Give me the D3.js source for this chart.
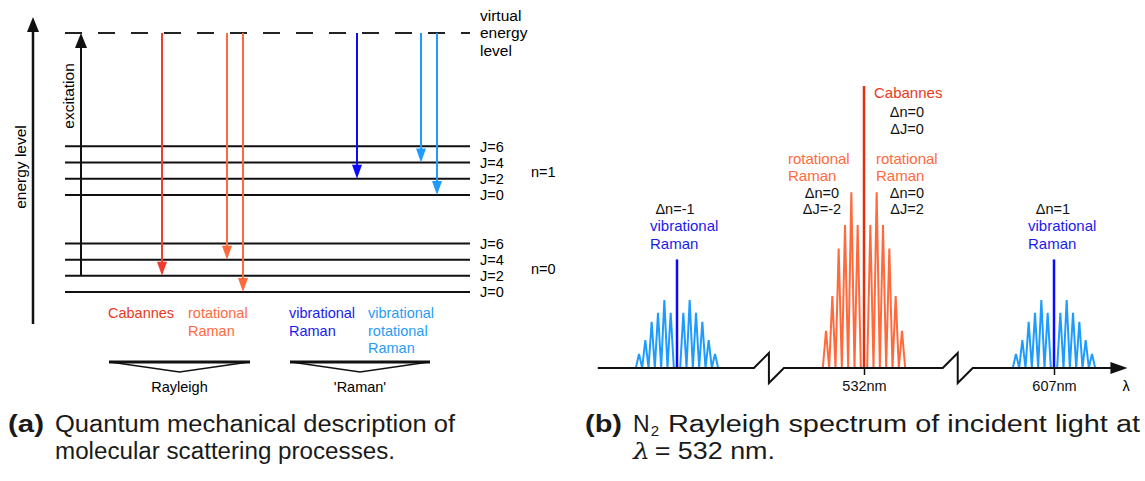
<!DOCTYPE html>
<html>
<head>
<meta charset="utf-8">
<script src="https://cdn.jsdelivr.net/npm/d3@7"></script>
<style>
  body { margin: 0; background: #fff; }
  svg { display: block; }
</style>
</head>
<body>
<svg id="chart" width="1145" height="481"></svg>
<script>
// ---- left panel data: energy levels and transitions ----
var bandsN = [0, 1];               // vibrational quantum number n
var levelsJ = [0, 2, 4, 6];        // rotational quantum number J
var bandSpacing = 6;               // level units between n=0 and n=1
var virtualLevel = 16;             // level units of the virtual level
var excitation = { n: 0, J: 2 };
var processes = ["Cabannes", "rotational Raman", "vibrational Raman", "vibrational rotational Raman"];
var processLines = [["Cabannes"], ["rotational", "Raman"], ["vibrational", "Raman"], ["vibrational", "rotational", "Raman"]];
var transitions = [
    { process: "Cabannes", n: 0, J: 2 },
    { process: "rotational Raman", n: 0, J: 4 },
    { process: "rotational Raman", n: 0, J: 0 },
    { process: "vibrational Raman", n: 1, J: 2 },
    { process: "vibrational rotational Raman", n: 1, J: 4 },
    { process: "vibrational rotational Raman", n: 1, J: 0 }
];
var groups = [
    { name: "Rayleigh", first: "Cabannes", last: "rotational Raman" },
    { name: "'Raman'", first: "vibrational Raman", last: "vibrational rotational Raman" }
];

// ---- right panel data: spectrum ----
var lineIndex = [-6, -5, -4, -3, -2, -1, 0, 1, 2, 3, 4, 5, 6];
var rotIntensity = [13.2, 25.5, 42.4, 50.7, 62.3, 50.7, 100, 50.7, 62.3, 50.7, 42.4, 25.5, 13.2];
var vibIntensity = [5.0, 9.9, 16.4, 19.6, 24.1, 19.6, 38.5, 19.6, 24.1, 19.6, 16.4, 9.9, 5.0];
var bandCenters = [473, 532, 607];   // nm
var axisTicks = [532, 607];
var axisBreaks = [502, 569];
var axisExtent = [448, 636];

var svg = d3.select("#chart");
var sans = "'Liberation Sans', Arial, sans-serif";

var colCab = "#f23c2e", colCabText = "#e53a22";
var colRot = "#ff6a3d";
var colVib = "#0a0aff", colVibText = "#1a1aee";
var colVibRot = "#1e9bff", colVibRotText = "#2a9cf4";
var procColor = d3.scaleOrdinal().domain(processes).range([colCab, colRot, colVib, colVibRot]);
var procTextColor = d3.scaleOrdinal().domain(processes).range([colCabText, colRot, colVibText, colVibRotText]);

// =============== left panel ===============
var yLevel = d3.scaleLinear().domain([0, virtualLevel]).range([292, 33]);
function lv(n, J) { return n * bandSpacing + J / 2; }
var xL0 = 65, xL1 = 470;
var xProc = d3.scaleOrdinal().domain(processes).range([108, 188, 289, 368]);
var xArrow = d3.scaleOrdinal().domain(processes).range([162, 227, 357, 421]);

var left = svg.append("g");

// energy axis
left.append("line")
    .attr("x1", 33).attr("x2", 33).attr("y1", 324).attr("y2", 30)
    .style("stroke", "#111").style("stroke-width", 2.5);
left.append("path")
    .attr("d", "M33,17 L27,32 L39,32 Z").style("fill", "#111");
left.append("text")
    .attr("transform", "translate(26," + 167 + ") rotate(-90)")
    .attr("text-anchor", "middle")
    .style("font-family", sans).style("font-size", "15.5px")
    .text("energy level");

// levels
bandsN.forEach(function (n) {
    levelsJ.forEach(function (J) {
        var y = yLevel(lv(n, J));
        left.append("line")
            .attr("x1", xL0).attr("x2", xL1).attr("y1", y).attr("y2", y)
            .style("stroke", "#111").style("stroke-width", 2);
        left.append("text")
            .attr("x", 480).attr("y", y).attr("dy", "0.36em")
            .style("font-family", sans).style("font-size", "14.5px")
            .text("J=" + J);
    });
    var yb = (yLevel(lv(n, 0)) + yLevel(lv(n, 6))) / 2;
    left.append("text")
        .attr("x", 531).attr("y", yb + 1).attr("dy", "0.36em")
        .style("font-family", sans).style("font-size", "14.5px")
        .text("n=" + n);
});

// virtual level
var yV = yLevel(virtualLevel);
left.append("line")
    .attr("x1", xL0).attr("x2", xL1).attr("y1", yV).attr("y2", yV)
    .style("stroke", "#222").style("stroke-width", 2)
    .style("stroke-dasharray", "17,16");
["virtual", "energy", "level"].forEach(function (t, i) {
    left.append("text")
        .attr("x", 480).attr("y", 20.5 + i * 17.7)
        .style("font-family", sans).style("font-size", "15.5px")
        .text(t);
});

// excitation arrow
var yEx = yLevel(lv(excitation.n, excitation.J));
left.append("line")
    .attr("x1", 81).attr("x2", 81).attr("y1", yEx).attr("y2", yV + 12)
    .style("stroke", "#111").style("stroke-width", 2);
left.append("path")
    .attr("d", "M81," + yV + " L75," + (yV + 15) + " L87," + (yV + 15) + " Z")
    .style("fill", "#111");
left.append("text")
    .attr("transform", "translate(73.5," + 96 + ") rotate(-90)")
    .attr("text-anchor", "middle")
    .style("font-family", sans).style("font-size", "15.5px")
    .text("excitation");

// transition arrows
var seen = {};
transitions.forEach(function (t) {
    var k = seen[t.process] || 0;
    seen[t.process] = k + 1;
    var x = xArrow(t.process) + k * 16;
    var yEnd = yLevel(lv(t.n, t.J));
    var c = procColor(t.process);
    left.append("line")
        .attr("x1", x).attr("x2", x).attr("y1", yV).attr("y2", yEnd - 10)
        .style("stroke", c).style("stroke-width", 2);
    left.append("path")
        .attr("d", "M" + x + "," + yEnd + " L" + (x - 5) + "," + (yEnd - 14) + " L" + (x + 5) + "," + (yEnd - 14) + " Z")
        .style("fill", c);
});

// process labels
processes.forEach(function (p, i) {
    processLines[i].forEach(function (t, j) {
        left.append("text")
            .attr("x", xProc(p)).attr("y", 318 + j * 17.5)
            .style("font-family", sans).style("font-size", "14.5px")
            .style("fill", procTextColor(p))
            .text(t);
    });
});

// group brackets
groups.forEach(function (g) {
    var x0 = xProc(g.first) + 2, x1 = xProc(g.last) + 61, xm = (x0 + x1) / 2;
    left.append("path")
        .attr("d", "M" + x0 + ",362 L" + xm + ",372 L" + x1 + ",362 Z")
        .style("fill", "#fff").style("stroke", "#111").style("stroke-width", 1.3);
    left.append("line")
        .attr("x1", x0 - 1).attr("x2", x1 + 1).attr("y1", 362).attr("y2", 362)
        .style("stroke", "#111").style("stroke-width", 3);
    left.append("text")
        .attr("x", xm).attr("y", 392).attr("text-anchor", "middle")
        .style("font-family", sans).style("font-size", "14.5px")
        .text(g.name);
});

// =============== right panel ===============
var xNm = d3.scaleLinear().domain(bandCenters).range([677, 864, 1054]);
var xLine = d3.scaleLinear().domain([-6, 6]).range([-38, 38]);
var yInt = d3.scaleLinear().domain([0, 100]).range([368, 86]);
var y0 = yInt(0);

var right = svg.append("g");

// zig-zag side lines and central line for each band
var bands = [
    { center: bandCenters[0], values: vibIntensity, side: colVibRot, mid: colVib },
    { center: bandCenters[1], values: rotIntensity, side: colRot, mid: "#e2300f" },
    { center: bandCenters[2], values: vibIntensity, side: colVibRot, mid: colVib }
];
bands.forEach(function (b) {
    var cx = xNm(b.center);
    var pts = [];
    lineIndex.forEach(function (k, i) {
        pts.push([cx + xLine(k - 0.5), y0]);
        if (k !== 0) pts.push([cx + xLine(k), yInt(b.values[i])]);
    });
    pts.push([cx + xLine(6.5), y0]);
    right.append("path")
        .attr("d", d3.line()(pts))
        .style("fill", "none").style("stroke", b.side).style("stroke-width", 2)
        .style("stroke-linejoin", "miter");
    var iMid = lineIndex.indexOf(0);
    right.append("line")
        .attr("x1", cx).attr("x2", cx).attr("y1", y0).attr("y2", yInt(b.values[iMid]))
        .style("stroke", b.mid).style("stroke-width", 2.5);
});

// broken wavelength axis
var xa0 = xNm(axisExtent[0]), xa1 = xNm(axisExtent[1]);
var axisPath = d3.path();
axisPath.moveTo(xa0, y0);
axisBreaks.forEach(function (bk) {
    var bx = xNm(bk);
    axisPath.lineTo(bx - 15, y0);
    axisPath.lineTo(bx, y0 - 15);
    axisPath.lineTo(bx, y0 + 15);
    axisPath.lineTo(bx + 15, y0);
});
axisPath.lineTo(xa1 - 12, y0);
right.append("path")
    .attr("d", axisPath.toString())
    .style("fill", "none").style("stroke", "#111").style("stroke-width", 2);
right.append("path")
    .attr("d", "M" + xa1 + "," + y0 + " L" + (xa1 - 17) + "," + (y0 - 6) + " L" + (xa1 - 17) + "," + (y0 + 6) + " Z")
    .style("fill", "#111");

var axis = right.append("g")
    .attr("transform", "translate(0," + y0 + ")")
    .call(d3.axisBottom(xNm).tickValues(axisTicks).tickSize(7).tickPadding(6)
        .tickFormat(function (d) { return d + "nm"; }));
axis.select(".domain").remove();
axis.selectAll("line").style("stroke", "#111").style("stroke-width", 1.5);
axis.selectAll("text").style("font-family", sans).style("font-size", "14.5px").style("fill", "#111");
right.append("text")
    .attr("x", 1126).attr("y", 391).attr("text-anchor", "middle")
    .style("font-family", sans).style("font-size", "14.5px")
    .text("λ");

// spectrum labels
function label(x, y, t, color, anchor) {
    right.append("text")
        .attr("x", x).attr("y", y).attr("text-anchor", anchor || "start")
        .style("font-family", sans).style("font-size", color ? "15px" : "14.5px")
        .style("fill", color || "#111")
        .text(t);
}
var c0 = xNm(bandCenters[0]), c1 = xNm(bandCenters[1]), c2 = xNm(bandCenters[2]);
label(c0 - 2, 214, "Δn=-1", null, "middle");
label(c0 - 27, 231, "vibrational", colVibText);
label(c0 - 27, 248.5, "Raman", colVibText);

label(c1 + 10, 98, "Cabannes", colCabText);
label(c1 + 43, 117, "Δn=0", null, "middle");
label(c1 + 43, 133.5, "ΔJ=0", null, "middle");
label(c1 - 76, 163.5, "rotational", colRot);
label(c1 - 76, 181, "Raman", colRot);
label(c1 - 42, 198, "Δn=0", null, "middle");
label(c1 - 42, 213.5, "ΔJ=-2", null, "middle");
label(c1 + 12, 163.5, "rotational", colRot);
label(c1 + 12, 181, "Raman", colRot);
label(c1 + 43, 198, "Δn=0", null, "middle");
label(c1 + 43, 213.5, "ΔJ=2", null, "middle");

label(c2 - 1, 214, "Δn=1", null, "middle");
label(c2 - 26, 231, "vibrational", colVibText);
label(c2 - 26, 248.5, "Raman", colVibText);

// =============== captions ===============
var capFont = "'Liberation Sans', Arial, sans-serif";
function cap(x, y, t, w, bold, size) {
    var el = svg.append("text")
        .attr("x", x).attr("y", y)
        .style("font-family", capFont).style("font-size", (size || 23) + "px")
        .style("font-weight", bold ? "bold" : "normal")
        .style("fill", "#1a1a1a")
        .text(t);
    if (w) el.attr("textLength", w).attr("lengthAdjust", "spacingAndGlyphs");
    return el;
}
cap(8, 432, "(a)", 36, true);
cap(55, 432, "Quantum mechanical description of", 400);
cap(55, 459, "molecular scattering processes.", 340);

cap(585, 432, "(b)", 37, true);
var nEl = cap(633, 432, "N");
var nW = nEl.node().getComputedTextLength();
var subEl = cap(633 + nW + 1, 435.5, "2", null, false, 15);
var subW = subEl.node().getComputedTextLength();
var restX = 633 + nW + 1 + subW + 9;
cap(restX, 432, "Rayleigh spectrum of incident light at", 1140 - restX);
var lam = svg.append("text")
    .attr("x", 633).attr("y", 459)
    .style("font-family", capFont).style("font-size", "23px").style("fill", "#1a1a1a");
lam.append("tspan").style("font-family", "'DejaVu Serif', serif").style("font-style", "italic").text("λ");
lam.append("tspan").attr("dx", 4).text("= 532 nm.");
lam.attr("textLength", 142).attr("lengthAdjust", "spacingAndGlyphs");
</script>
</body>
</html>
